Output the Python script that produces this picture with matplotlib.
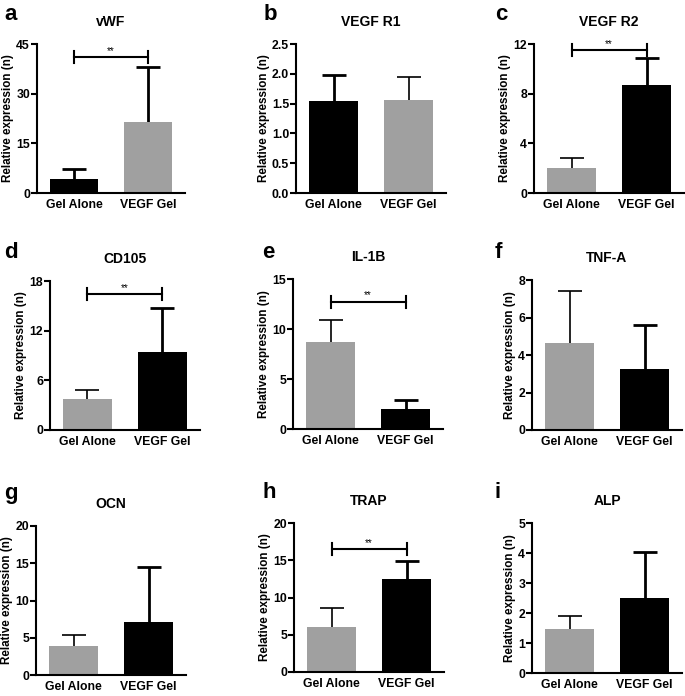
import numpy as np
import matplotlib
matplotlib.use('Agg')
import matplotlib.pyplot as plt

plt.rcParams['font.family'] = ['Liberation Sans', 'DejaVu Sans']
plt.rcParams['font.weight'] = 'bold'

# ---- data ----
letters = ['a', 'b', 'c', 'd', 'e', 'f', 'g', 'h', 'i']
titles = ['vWF', 'VEGF R1', 'VEGF R2', 'CD105', 'IL-1B', 'TNF-A', 'OCN', 'TRAP', 'ALP']
groups = ['Gel Alone', 'VEGF Gel']

gel_alone_mean = [4.3, 1.55, 2.0, 3.74, 8.67, 4.66, 3.89, 6.0, 1.46]
gel_alone_err = [2.9, 0.43, 0.84, 1.09, 2.23, 2.77, 1.44, 2.55, 0.45]
vegf_gel_mean = [21.3, 1.56, 8.7, 9.39, 2.0, 3.24, 7.16, 12.48, 2.49]
vegf_gel_err = [16.8, 0.39, 2.2, 5.31, 0.9, 2.36, 7.3, 2.46, 1.53]

y_max = [45, 2.5, 12, 18, 15, 8, 20, 20, 5]
y_step = [15, 0.5, 4, 6, 5, 2, 5, 5, 1]
sig_label = ['**', '', '**', '**', '**', '', '', '**', '']
sig_y = [41, 0, 11.5, 16.4, 12.7, 0, 0, 16.5, 0]

# ---- layout (pixels: left, right, top, bottom of each axes) ----
W, H = 685, 696
boxes = [(37, 185, 44, 193), (296, 446, 44, 193), (534, 684, 44, 193),
         (50, 200, 281, 430), (293, 443, 279, 429), (532, 682, 280, 430),
         (36, 186, 526, 675), (294, 444, 523, 672), (532, 682, 523, 673)]
letter_pos = [(4, 15), (264, 15), (495, 15), (4, 253), (262, 253), (495, 253),
              (4, 493), (262, 493), (495, 493)]
GRAY = '#a0a0a0'
BAR_W = 0.66
CAP_W = 0.32

fig = plt.figure(figsize=(W / 100, H / 100), dpi=100)

for k in range(9):
    l, r, t, b = boxes[k]
    ax = fig.add_axes([l / W, 1 - b / H, (r - l) / W, (b - t) / H])
    # first two panels have black Gel Alone bars, the rest are swapped
    if k < 2:
        cols = ['black', GRAY]
    else:
        cols = [GRAY, 'black']
    x = np.arange(2)
    means = np.array([gel_alone_mean[k], vegf_gel_mean[k]])
    errs = np.array([gel_alone_err[k], vegf_gel_err[k]])
    ax.bar(x, means, width=BAR_W, color=cols, edgecolor='none', zorder=2)
    for i in range(2):
        lw = 2.0 if (cols[i] == 'black' or k == 0) else 1.2
        top = means[i] + errs[i]
        ax.vlines(x[i], means[i] * 0.5, top, color='black', lw=lw, zorder=1)
        ax.hlines(top, x[i] - CAP_W / 2, x[i] + CAP_W / 2, color='black', lw=lw, zorder=1)

    if sig_label[k]:
        ys = sig_y[k]
        ax.plot([0, 1], [ys, ys], color='black', lw=1.5, clip_on=False)
        dy = y_max[k] * 0.04
        for xx in (0, 1):
            ax.plot([xx, xx], [ys - dy, ys + dy], color='black', lw=1.5, clip_on=False)
        ax.text(0.5, ys + y_max[k] * 0.01, sig_label[k], ha='center', va='bottom',
                fontsize=7, fontweight='normal')

    ax.set_xlim(-0.5, 1.5)
    ax.set_ylim(0, y_max[k])
    ticks = np.arange(0, y_max[k] + y_step[k] / 2, y_step[k])
    ax.set_yticks(ticks)
    if y_step[k] < 1:
        ax.set_yticklabels([f'{v:.1f}' for v in ticks])
    else:
        ax.set_yticklabels([f'{v:g}' for v in ticks])
    ax.set_xticks(x)
    ax.set_xticklabels(groups)
    for s in ('top', 'right'):
        ax.spines[s].set_visible(False)
    for s in ('left', 'bottom'):
        ax.spines[s].set_linewidth(1.5)
    ax.tick_params(axis='y', length=4, width=1.5, labelsize=8.8, pad=1)
    ax.tick_params(axis='x', length=0, labelsize=8.8, pad=4)
    for lab in ax.get_xticklabels() + ax.get_yticklabels():
        lab.set_fontweight('bold')
    ax.set_ylabel('Relative expression (n)', fontsize=8.4, fontweight='bold', labelpad=1.5)
    ax.set_title(titles[k], fontsize=10, fontweight='bold', pad=13)

    lx, ly = letter_pos[k]
    fig.text(lx / W, 1 - ly / H, letters[k], fontsize=16, fontweight='bold',
             ha='left', va='center')

fig.savefig('out.png', dpi=100)
